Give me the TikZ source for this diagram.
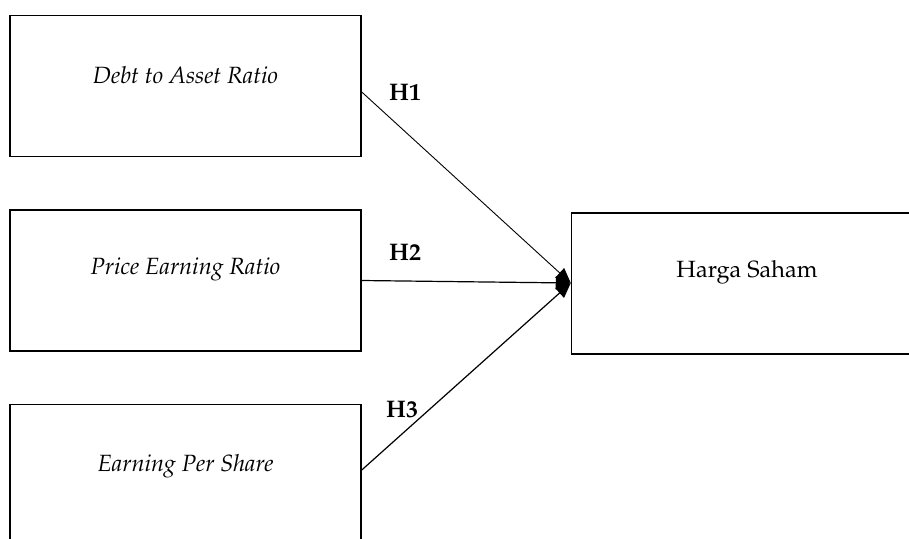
\documentclass[tikz,border=0pt]{standalone}
\usepackage[T1]{fontenc}
\usepackage{mathpazo}
\usetikzlibrary{positioning, arrows.meta}
\tikzset{
box/.style={draw, line width=1.5pt, minimum width=351pt, minimum height=141pt, inner sep=0pt}, % the frame of each variable
lbl/.style={font=\fontsize{23.5}{26}\selectfont}, % text inside a frame
hyp/.style={font=\fontsize{24}{26}\selectfont\bfseries}, % H1, H2, H3
link/.style={-{Triangle[length=15pt,width=13pt]}, line width=1.2pt}, % connectors
node distance=52pt, % gap between the frames on the left
}
\begin{document}
\begin{tikzpicture}[x=1pt, y=-1pt]
    \useasboundingbox (0,0) rectangle (909,538);
    \node[box] (dar) at (185.5,86) {};
    \node[box, below=of dar] (per) {};
    \node[box, below=of per] (eps) {};
    \node[box, right=209pt of per, yshift=-3pt] (hs) {};
    \node[lbl] (tdar) at ([yshift=11pt]dar.center) {\itshape Debt to Asset Ratio};
    \node[lbl] (tper) at ([yshift=11pt]per.center) {\itshape Price Earning Ratio};
    \node[lbl] (teps) at ([yshift=9pt]eps.center) {\itshape Earning Per Share};
    \node[lbl] (ths) at ([yshift=11pt]hs.center) {Harga Saham};
    \coordinate (tip) at ([yshift=0.5pt]hs.west);
    \draw[link, line width=0.9pt] ([yshift=-6pt]dar.east) -- (tip);
    \draw[link] (per.east) -- (tip);
    \draw[link] ([yshift=5pt]eps.east) -- (tip);
    \node[hyp] (h1) at (405,93) {H1};
    \node[hyp] (h2) at (405,253) {H2};
    \node[hyp] (h3) at (402,410) {H3};
\end{tikzpicture}
\end{document}
